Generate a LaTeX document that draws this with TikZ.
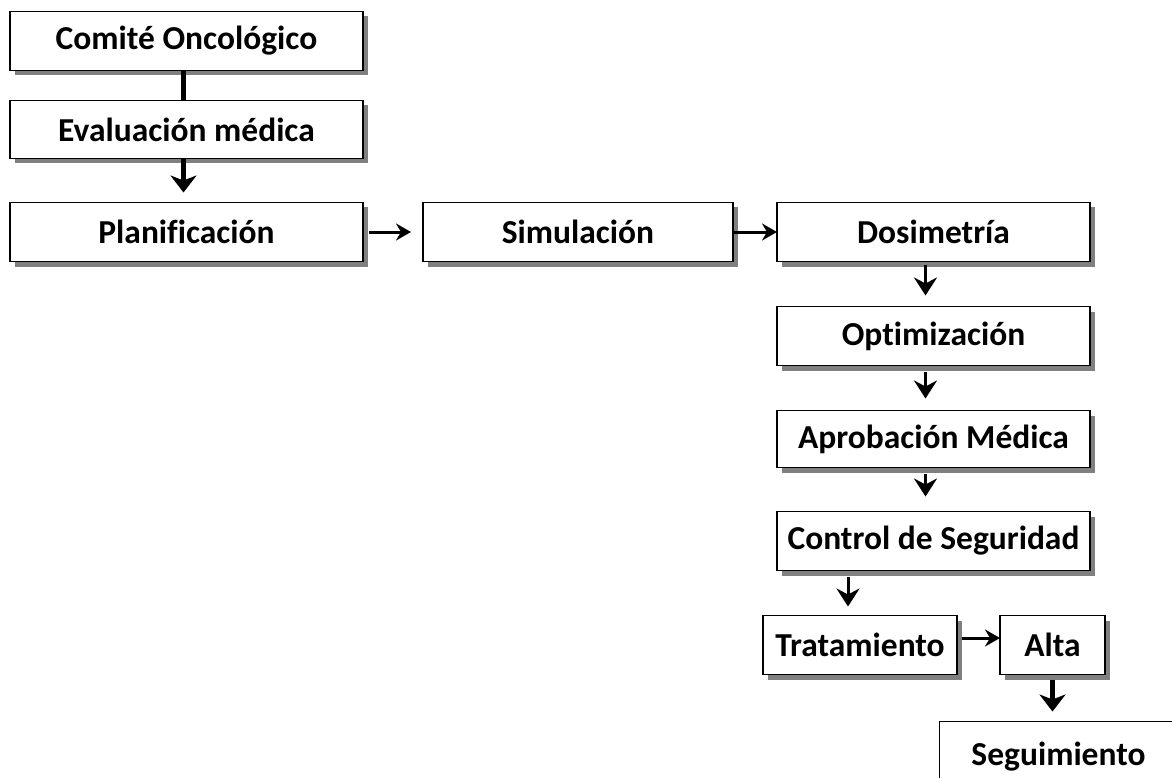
\documentclass[tikz,border=0pt]{standalone}
\usepackage{fontspec}
\setmainfont[Ligatures=NoCommon]{Carlito}
\usetikzlibrary{positioning,shadows,arrows.meta}

\begin{document}
\begin{tikzpicture}[x=1pt, y=-1pt,
    box/.style = {draw, line width=1.8pt, fill=white, inner sep=0pt, outer sep=0pt, minimum height=59pt,
        font=\fontsize{33.5}{40}\selectfont\bfseries,
        drop shadow={shadow xshift=5pt, shadow yshift=-5pt, fill=gray, opacity=1}},
    thin/.style = {line width=3pt, -{Stealth[length=15pt, width=17pt, inset=5pt]}},
    down/.style = {line width=3pt, -{Stealth[length=18pt, width=23pt, inset=6pt]}},
    fat/.style = {line width=4.8pt, -{Stealth[length=17pt, width=26pt, inset=5pt]}}]
            \path[use as bounding box] (0,0) rectangle (1172,778);
            \clip (0,0) rectangle (1172,778);
            \node[box, minimum width=353pt] (comite) at (186.5,41) {Comité Oncológico};
            \node[box, minimum width=353pt, minimum height=58pt] (evaluacion) [below=30pt of comite] {Evaluación médica};
            \node[box, minimum width=353pt] (planif) [below=44pt of evaluacion] {Planificación};
            \node[box, minimum width=310pt] (simul) [right=60pt of planif] {Simulación};
            \node[box, minimum width=313pt] (dosim) [right=44pt of simul] {Dosimetría};
            \node[box, minimum width=313pt] (optim) [below=45pt of dosim] {Optimización};
            \node[box, minimum width=313pt, minimum height=57pt] (aprob) [below=45pt of optim] {Aprobación Médica};
            \node[box, minimum width=313pt] (control) [below=44pt of aprob] {Control de Seguridad};
            \node[box, minimum width=194pt] (trat) [below=45pt of control.south west, xshift=-14pt, anchor=north west] {Tratamiento};
            \node[box, minimum width=105pt] (alta) [right=43pt of trat] {Alta};
            \node[box, minimum width=238pt, minimum height=70pt] (seguim) [below=47pt of alta, xshift=6pt] {Seguimiento};
            \draw[line width=4.8pt] ([xshift=-3pt]comite.south) -- ([xshift=-3pt]evaluacion.north);
            \draw[fat, shorten >=10pt] ([xshift=-3pt]evaluacion.south) -- ([xshift=-3pt]planif.north);
            \draw[thin, shorten <=6pt, shorten >=12pt] (planif.east) -- (simul.west);
            \draw[thin] (simul.east) -- (dosim.west);
            \draw[down, shorten <=3pt, shorten >=11pt] ([xshift=-8pt]dosim.south) -- ([xshift=-8pt]optim.north);
            \draw[down, shorten <=6pt, shorten >=12pt] ([xshift=-8pt]optim.south) -- ([xshift=-8pt]aprob.north);
            \draw[down, shorten <=6pt, shorten >=15pt] ([xshift=-8pt]aprob.south) -- ([xshift=-8pt]control.north);
            \draw[down, shorten <=6pt, shorten >=9pt] ([xshift=-12pt]trat.north |- control.south) -- ([xshift=-12pt]trat.north);
            \draw[thin, shorten <=5pt] ([yshift=7pt]trat.east) -- ([yshift=7pt]trat.east -| alta.west);
            \draw[fat, shorten <=5pt, shorten >=10pt] (alta.south) -- (alta.south |- seguim.north);
        \end{tikzpicture}
\end{document}
